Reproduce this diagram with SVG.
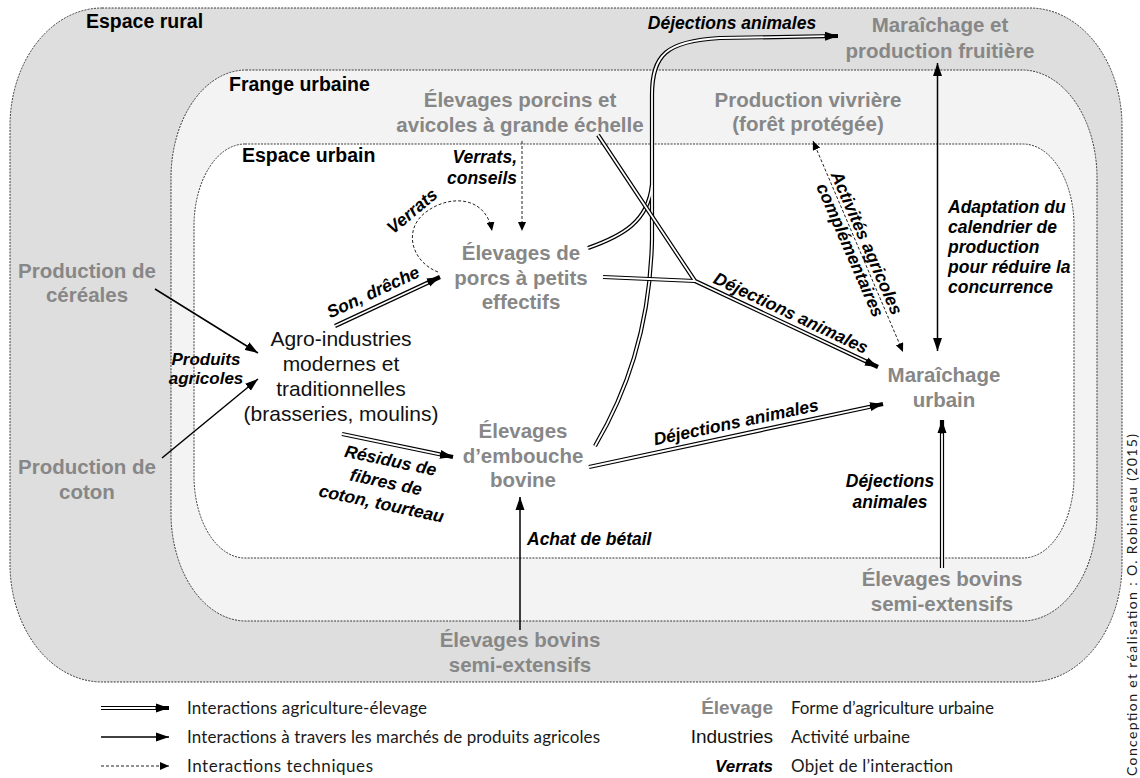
<svg xmlns="http://www.w3.org/2000/svg" width="1140" height="778" viewBox="0 0 1140 778">
<style>
.zone{stroke:#3a3a3a;stroke-width:1;stroke-dasharray:2 1.2}
.rg{font-family:"Liberation Sans",Arial,sans-serif;font-weight:bold;font-size:19.5px;fill:#000}
.gn{font-family:"Liberation Sans",Arial,sans-serif;font-weight:bold;font-size:20.5px;fill:#878787;text-anchor:middle}
.in{font-family:"Liberation Sans",Arial,sans-serif;font-size:21px;fill:#111;text-anchor:middle}
.lb{font-family:"Liberation Sans",Arial,sans-serif;font-weight:bold;font-style:italic;font-size:17.5px;fill:#000}
.mid{text-anchor:middle}
.end{text-anchor:end}
.lg{font-family:Lato,"Open Sans",sans-serif;font-size:17px;fill:#1a1a1a}
.dbk{fill:none;stroke:#000;stroke-width:4.2;stroke-linejoin:round}
.dwh{fill:none;stroke:#fff;stroke-width:1.8;stroke-linejoin:round}
.sgl{fill:none;stroke:#000;stroke-width:1.5}
.dsh{fill:none;stroke:#222;stroke-width:1;stroke-dasharray:3 2}
</style>
<defs>
<marker id="ah" markerUnits="userSpaceOnUse" markerWidth="13" markerHeight="10" viewBox="0 0 13 10" refX="13" refY="5" orient="auto-start-reverse"><path d="M0,0.5 L13,5 L0,9.5z" fill="#000"/></marker>
<marker id="dh" markerUnits="userSpaceOnUse" markerWidth="9" markerHeight="8" viewBox="0 0 9 8" refX="9" refY="4" orient="auto-start-reverse"><path d="M0,0 L9,4 L0,8z" fill="#000"/></marker>
</defs>

<g id="zones">
<rect class="zone" x="10" y="8" width="1112" height="674" rx="92" ry="118" fill="#dedede"/>
<rect class="zone" x="171" y="70" width="926" height="551" rx="75" ry="108" fill="#f3f3f3"/>
<rect class="zone" x="194" y="144" width="880" height="414" rx="51" ry="82" fill="#ffffff"/>
<text class="rg" x="86" y="28">Espace rural</text>
<text class="rg" x="229" y="91">Frange urbaine</text>
<text class="rg" x="242" y="162">Espace urbain</text>
</g>

<g id="connectors">
<path class="dbk" d="M595,446 C625,395 650,330 652,240 L652,95 C652,55 666,41 720,38 L838,36" marker-end="url(#ah)"/>
<path class="dbk" d="M588,248 C622,236 648,222 652,185"/>
<path class="dwh" d="M595,446 C625,395 650,330 652,240 L652,95 C652,55 666,41 720,38 L824.5,36.2"/>
<path class="dwh" d="M588,248 C622,236 648,222 652,185"/>
<path class="dbk" d="M598,135 L695,281 L878,367" marker-end="url(#ah)"/>
<path class="dbk" d="M603,277 L695,281"/>
<path class="dwh" d="M598,135 L695,281 L865.8,361.3"/>
<path class="dwh" d="M603,277 L695,281"/>
<path class="dbk" d="M335,326 L440,277" marker-end="url(#ah)"/>
<path class="dwh" d="M335,326 L427.8,282.7"/>
<path class="dbk" d="M342,434 L453,457" marker-end="url(#ah)"/>
<path class="dwh" d="M342,434 L439.8,454.3"/>
<path class="dbk" d="M589,467 L883,404" marker-end="url(#ah)"/>
<path class="dwh" d="M589,467 L869.8,406.8"/>
<path class="dbk" d="M942,568 L942,420" marker-end="url(#ah)"/>
<path class="dwh" d="M942,568 L942,433.5"/>
<path class="sgl" d="M155,289 L258,353" marker-end="url(#ah)"/>
<path class="sgl" d="M162,458 L258,379" marker-end="url(#ah)"/>
<path class="sgl" d="M937.5,63 L937.5,351" marker-start="url(#ah)" marker-end="url(#ah)"/>
<path class="sgl" d="M520,630 L520,497" marker-end="url(#ah)"/>
<path class="dsh" d="M522,141 L522,231" marker-end="url(#dh)"/>
<path class="dsh" d="M438,272 C412,262 402,230 426,212 C450,194 486,196 492,231" marker-end="url(#dh)"/>
<path class="dsh" d="M813,141 L903,352" marker-start="url(#dh)" marker-end="url(#dh)"/>
</g>

<g id="connector-labels">
<text class="lb mid" x="732" y="29">Déjections animales</text>
<text class="lb end" x="517" y="163">Verrats,</text>
<text class="lb end" x="517" y="184">conseils</text>
<text class="lb mid" transform="translate(412,211) rotate(-40)" y="6">Verrats</text>
<text class="lb mid" transform="translate(373,292) rotate(-25)" y="6">Son, drêche</text>
<g transform="translate(386,482) rotate(12)">
<text class="lb mid" y="-16">Résidus de</text>
<text class="lb mid" y="6">fibres de</text>
<text class="lb mid" y="28">coton, tourteau</text>
</g>
<text class="lb mid" transform="translate(791,313) rotate(25.2)" y="6">Déjections animales</text>
<text class="lb mid" transform="translate(736,422) rotate(-12)" y="6">Déjections animales</text>
<text class="lb mid" x="890" y="487">Déjections</text>
<text class="lb mid" x="890" y="508">animales</text>
<text class="lb" x="527" y="545">Achat de bétail</text>
<text class="lb mid" x="206" y="365" style="font-size:17px">Produits</text>
<text class="lb mid" x="206" y="384" style="font-size:17px">agricoles</text>
<g transform="translate(858.5,246.5) rotate(66.5)">
<text class="lb mid" y="-3">Activités agricoles</text>
<text class="lb mid" y="15">complémentaires</text>
</g>
<text class="lb" x="948" y="213">Adaptation du</text>
<text class="lb" x="948" y="233">calendrier de</text>
<text class="lb" x="948" y="253">production</text>
<text class="lb" x="948" y="273">pour réduire la</text>
<text class="lb" x="948" y="293">concurrence</text>
</g>

<g id="n-maraichage-fruitiere"><text class="gn" x="940" y="32">Maraîchage et</text><text class="gn" x="940" y="58">production fruitière</text></g>
<g id="n-porcins-grande-echelle"><text class="gn" x="520" y="107">Élevages porcins et</text><text class="gn" x="520" y="132">avicoles à grande échelle</text></g>
<g id="n-production-vivriere"><text class="gn" x="808" y="107">Production vivrière</text><text class="gn" x="808" y="131">(forêt protégée)</text></g>
<g id="n-porcs-petits"><text class="gn" x="521" y="260">Élevages de</text><text class="gn" x="521" y="285">porcs à petits</text><text class="gn" x="521" y="309">effectifs</text></g>
<g id="n-agro-industries"><text class="in" x="341" y="346">Agro-industries</text><text class="in" x="341" y="371">modernes et</text><text class="in" x="341" y="396">traditionnelles</text><text class="in" x="341" y="421">(brasseries, moulins)</text></g>
<g id="n-embouche"><text class="gn" x="523" y="438">Élevages</text><text class="gn" x="523" y="463">d’embouche</text><text class="gn" x="523" y="487">bovine</text></g>
<g id="n-maraichage-urbain"><text class="gn" x="944" y="382">Maraîchage</text><text class="gn" x="944" y="407">urbain</text></g>
<g id="n-bovins-frange"><text class="gn" x="942" y="586">Élevages bovins</text><text class="gn" x="942" y="611">semi-extensifs</text></g>
<g id="n-bovins-rural"><text class="gn" x="520" y="647">Élevages bovins</text><text class="gn" x="520" y="672">semi-extensifs</text></g>
<g id="n-cereales"><text class="gn" x="87" y="278">Production de</text><text class="gn" x="87" y="302">céréales</text></g>
<g id="n-coton"><text class="gn" x="87" y="474">Production de</text><text class="gn" x="87" y="499">coton</text></g>

<g id="legend">
<path class="dbk" d="M101,708 L169,708" marker-end="url(#ah)"/>
<path class="dwh" d="M101,708 L155.5,708"/>
<path class="sgl" d="M101,737 L169,737" marker-end="url(#ah)"/>
<path class="dsh" d="M101,766 L169,766" marker-end="url(#dh)"/>
<text class="lg" x="187" y="714" textLength="240">Interactions agriculture-élevage</text>
<text class="lg" x="187" y="743" textLength="413">Interactions à travers les marchés de produits agricoles</text>
<text class="lg" x="187" y="772" textLength="186">Interactions techniques</text>
<text x="773" y="714" text-anchor="end" style="font-family:'Liberation Sans',Arial,sans-serif;font-weight:bold;font-size:19px;fill:#878787">Élevage</text>
<text x="773" y="743" text-anchor="end" style="font-family:'Liberation Sans',Arial,sans-serif;font-size:19px;fill:#111">Industries</text>
<text x="773" y="772" text-anchor="end" style="font-family:'Liberation Sans',Arial,sans-serif;font-weight:bold;font-style:italic;font-size:17px;fill:#000">Verrats</text>
<text class="lg" x="791" y="714" textLength="203">Forme d’agriculture urbaine</text>
<text class="lg" x="791" y="743" textLength="119">Activité urbaine</text>
<text class="lg" x="791" y="772" textLength="162">Objet de l’interaction</text>
</g>

<text class="lg" transform="translate(1137,776) rotate(-90)" style="font-size:14px" textLength="342">Conception et réalisation : O. Robineau (2015)</text>
</svg>
